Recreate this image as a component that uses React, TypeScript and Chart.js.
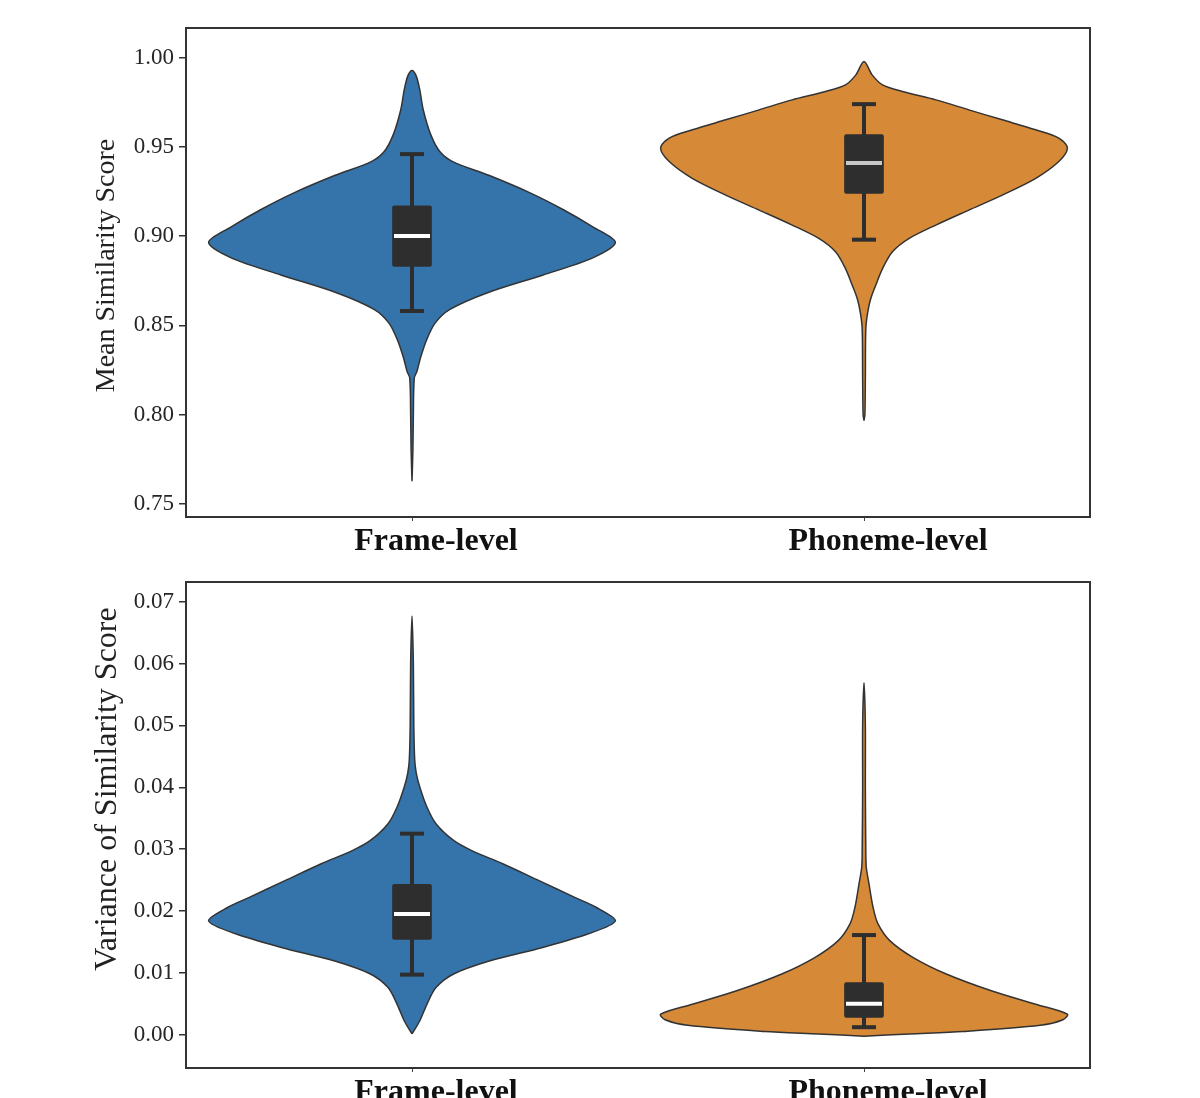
import { useEffect, useRef } from "react"
import { Chart, registerables } from "chart.js"

Chart.register(...registerables)

const categories = ["Frame-level", "Phoneme-level"]

// top panel: mean similarity score
const meanTicks = [0.75, 0.8, 0.85, 0.9, 0.95, 1.0]
// violin outline: y value -> half width (in category units)
const frameMeanY = [0.7625, 0.78, 0.8, 0.8204, 0.8242, 0.8319, 0.8416, 0.8512, 0.8589, 0.8685, 0.8782, 0.8878, 0.8965, 0.9052, 0.9148, 0.9244, 0.9341, 0.9418, 0.9476, 0.9572, 0.9707, 0.9823, 0.99, 0.9929]
const frameMeanW = [0, 0.002, 0.003, 0.005, 0.011, 0.019, 0.032, 0.051, 0.084, 0.17, 0.29, 0.4, 0.45, 0.4, 0.335, 0.26, 0.17, 0.09, 0.061, 0.041, 0.025, 0.017, 0.009, 0]
const phonemeMeanY = [0.7965, 0.8, 0.82, 0.848, 0.857, 0.865, 0.8725, 0.8818, 0.8912, 0.8987, 0.9062, 0.9146, 0.923, 0.9324, 0.9418, 0.9494, 0.955, 0.9596, 0.9652, 0.9708, 0.9764, 0.9811, 0.9848, 0.9904, 0.9979]
const phonemeMeanW = [0, 0.002, 0.003, 0.004, 0.008, 0.015, 0.026, 0.041, 0.063, 0.1, 0.159, 0.232, 0.306, 0.38, 0.431, 0.45, 0.431, 0.38, 0.306, 0.232, 0.159, 0.085, 0.041, 0.018, 0]
const meanLow = [0.858, 0.898]
const meanQ1 = [0.883, 0.924]
const meanMedian = [0.9, 0.941]
const meanQ3 = [0.917, 0.957]
const meanHigh = [0.946, 0.974]

// bottom panel: variance of similarity score
const varTicks = [0, 0.01, 0.02, 0.03, 0.04, 0.05, 0.06, 0.07]
const frameVarY = [0.0001, 0.0022, 0.0049, 0.0076, 0.0098, 0.0119, 0.0141, 0.0163, 0.0184, 0.0206, 0.0222, 0.0249, 0.0276, 0.0298, 0.0314, 0.0341, 0.0368, 0.0401, 0.0423, 0.0444, 0.05, 0.06, 0.0677]
const frameVarW = [0, 0.017, 0.033, 0.053, 0.092, 0.171, 0.289, 0.39, 0.45, 0.407, 0.36, 0.281, 0.202, 0.131, 0.092, 0.053, 0.033, 0.017, 0.0094, 0.006, 0.004, 0.003, 0]
const phonemeVarY = [-0.00025, 0.0001, 0.0005, 0.0015, 0.0024, 0.0033, 0.0049, 0.007, 0.0098, 0.0125, 0.0152, 0.0179, 0.0206, 0.0244, 0.0271, 0.03, 0.04, 0.05, 0.0569]
const phonemeVarW = [0, 0.1, 0.22, 0.39, 0.44, 0.45, 0.38, 0.285, 0.182, 0.108, 0.057, 0.031, 0.02, 0.011, 0.005, 0.004, 0.003, 0.003, 0]
const varLow = [0.0097, 0.0012]
const varQ1 = [0.0154, 0.0028]
const varMedian = [0.0195, 0.005]
const varQ3 = [0.0243, 0.0084]
const varHigh = [0.0325, 0.0161]

const SERIF = '"Liberation Serif", "DejaVu Serif", serif'
const violinColors = ["#3574aa", "#d68a38"]
const BOX_COLOR = "#2e2e2e"

const framePlugin = {
  id: "frame",
  afterDraw(chart: Chart) {
    const { ctx, chartArea } = chart
    ctx.save()
    ctx.strokeStyle = "#333"
    ctx.lineWidth = 2
    ctx.strokeRect(chartArea.left, chartArea.top, chartArea.right - chartArea.left, chartArea.bottom - chartArea.top)
    ctx.restore()
  },
}

function violinPoints(center: number, ys: number[], ws: number[]) {
  const right = ys.map((y, i) => ({ x: center + ws[i], y }))
  const left = ys
    .map((y, i) => ({ x: center - ws[i], y }))
    .reverse()
    .slice(1)
  return [...right, ...left]
}

interface PanelSpec {
  violins: { y: number[]; w: number[] }[]
  low: number[]
  q1: number[]
  median: number[]
  q3: number[]
  high: number[]
  ticks: number[]
  min: number
  max: number
  title: string
  titleSize: number
  titlePad: number
  medianColors: string[]
  padTop: number
  xHeight: number
}

function makeConfig(p: PanelSpec): any {
  const datasets: any[] = []

  p.violins.forEach((v, i) => {
    datasets.push({
      type: "line",
      data: violinPoints(i, v.y, v.w),
      fill: "shape",
      backgroundColor: violinColors[i],
      borderColor: "#333",
      borderWidth: 1.5,
      pointRadius: 0,
      tension: 0.3,
      order: 4,
    })
    datasets.push({
      type: "line",
      data: [
        { x: i, y: p.low[i] },
        { x: i, y: p.high[i] },
      ],
      borderColor: BOX_COLOR,
      borderWidth: 4,
      pointStyle: "line",
      pointRadius: 12,
      pointBorderWidth: 4,
      pointBorderColor: BOX_COLOR,
      fill: false,
      order: 3,
    })
  })

  datasets.push({
    type: "bar",
    data: categories.map((_, i) => ({ x: i, y: [p.q1[i], p.q3[i]] })),
    backgroundColor: BOX_COLOR,
    borderWidth: 0,
    borderRadius: 2,
    borderSkipped: false,
    barThickness: 39,
    order: 2,
  })

  datasets.push({
    type: "line",
    showLine: false,
    data: categories.map((_, i) => ({ x: i, y: p.median[i] })),
    pointStyle: "line",
    pointRadius: 18,
    pointBorderWidth: 4,
    pointBorderColor: p.medianColors,
    order: 1,
  })

  return {
    type: "line",
    data: { datasets },
    options: {
      responsive: false,
      animation: false,
      events: [],
      layout: { padding: { top: p.padTop, right: 110, bottom: 0, left: 0 } },
      plugins: {
        legend: { display: false },
        tooltip: { enabled: false },
      },
      scales: {
        x: {
          type: "linear",
          min: -0.5,
          max: 1.5,
          offset: false,
          afterBuildTicks: (scale: any) => {
            scale.ticks = categories.map((_, i) => ({ value: i }))
          },
          afterFit: (scale: any) => {
            scale.height = p.xHeight
          },
          ticks: {
            callback: (value: any) => categories[value],
            font: { family: SERIF, size: 32, weight: "bold" },
            color: "#111",
            padding: 2,
            labelOffset: 24,
            maxRotation: 0,
            autoSkip: false,
          },
          grid: { offset: false, drawOnChartArea: false, tickLength: 4, color: "#444", lineWidth: 1 },
          border: { display: false },
        },
        y: {
          type: "linear",
          min: p.min,
          max: p.max,
          afterBuildTicks: (scale: any) => {
            scale.ticks = p.ticks.map((v) => ({ value: v }))
          },
          afterFit: (scale: any) => {
            scale.width = 186
          },
          ticks: {
            callback: (value: any) => Number(value).toFixed(2),
            font: { family: SERIF, size: 23 },
            color: "#262626",
            padding: 5,
          },
          grid: { drawOnChartArea: false, tickLength: 7, color: "#333", lineWidth: 1.5 },
          border: { display: false },
          title: {
            display: true,
            text: p.title,
            font: { family: SERIF, size: p.titleSize },
            color: "#222",
            padding: { top: p.titlePad, bottom: 0 },
          },
        },
      },
    },
    plugins: [framePlugin],
  }
}

export default function App() {
  const topRef = useRef<HTMLCanvasElement>(null)
  const bottomRef = useRef<HTMLCanvasElement>(null)

  useEffect(() => {
    if (!topRef.current || !bottomRef.current) return

    const top = new Chart(
      topRef.current,
      makeConfig({
        violins: [
          { y: frameMeanY, w: frameMeanW },
          { y: phonemeMeanY, w: phonemeMeanW },
        ],
        low: meanLow,
        q1: meanQ1,
        median: meanMedian,
        q3: meanQ3,
        high: meanHigh,
        ticks: meanTicks,
        min: 0.7425,
        max: 1.0167,
        title: "  Mean Similarity Score",
        titleSize: 28,
        titlePad: 90,
        medianColors: ["#ffffff", "#c8c8c8"],
        padTop: 28,
        xHeight: 43,
      })
    )

    const bottom = new Chart(
      bottomRef.current,
      makeConfig({
        violins: [
          { y: frameVarY, w: frameVarW },
          { y: phonemeVarY, w: phonemeVarW },
        ],
        low: varLow,
        q1: varQ1,
        median: varMedian,
        q3: varQ3,
        high: varHigh,
        ticks: varTicks,
        min: -0.0054,
        max: 0.0732,
        title: "         Variance of Similarity Score",
        titleSize: 32,
        titlePad: 88,
        medianColors: ["#ffffff", "#ffffff"],
        padTop: 18,
        xHeight: 52,
      })
    )

    return () => {
      top.destroy()
      bottom.destroy()
    }
  }, [])

  return (
    <div
      style={{
        position: "absolute",
        left: 0,
        top: 0,
        width: 1200,
        height: 1098,
        overflow: "hidden",
        background: "#fff",
      }}
    >
      <canvas ref={topRef} width={1200} height={560} style={{ position: "absolute", left: 0, top: 0 }}></canvas>
      <canvas ref={bottomRef} width={1200} height={560} style={{ position: "absolute", left: 0, top: 560 }}></canvas>
    </div>
  )
}
